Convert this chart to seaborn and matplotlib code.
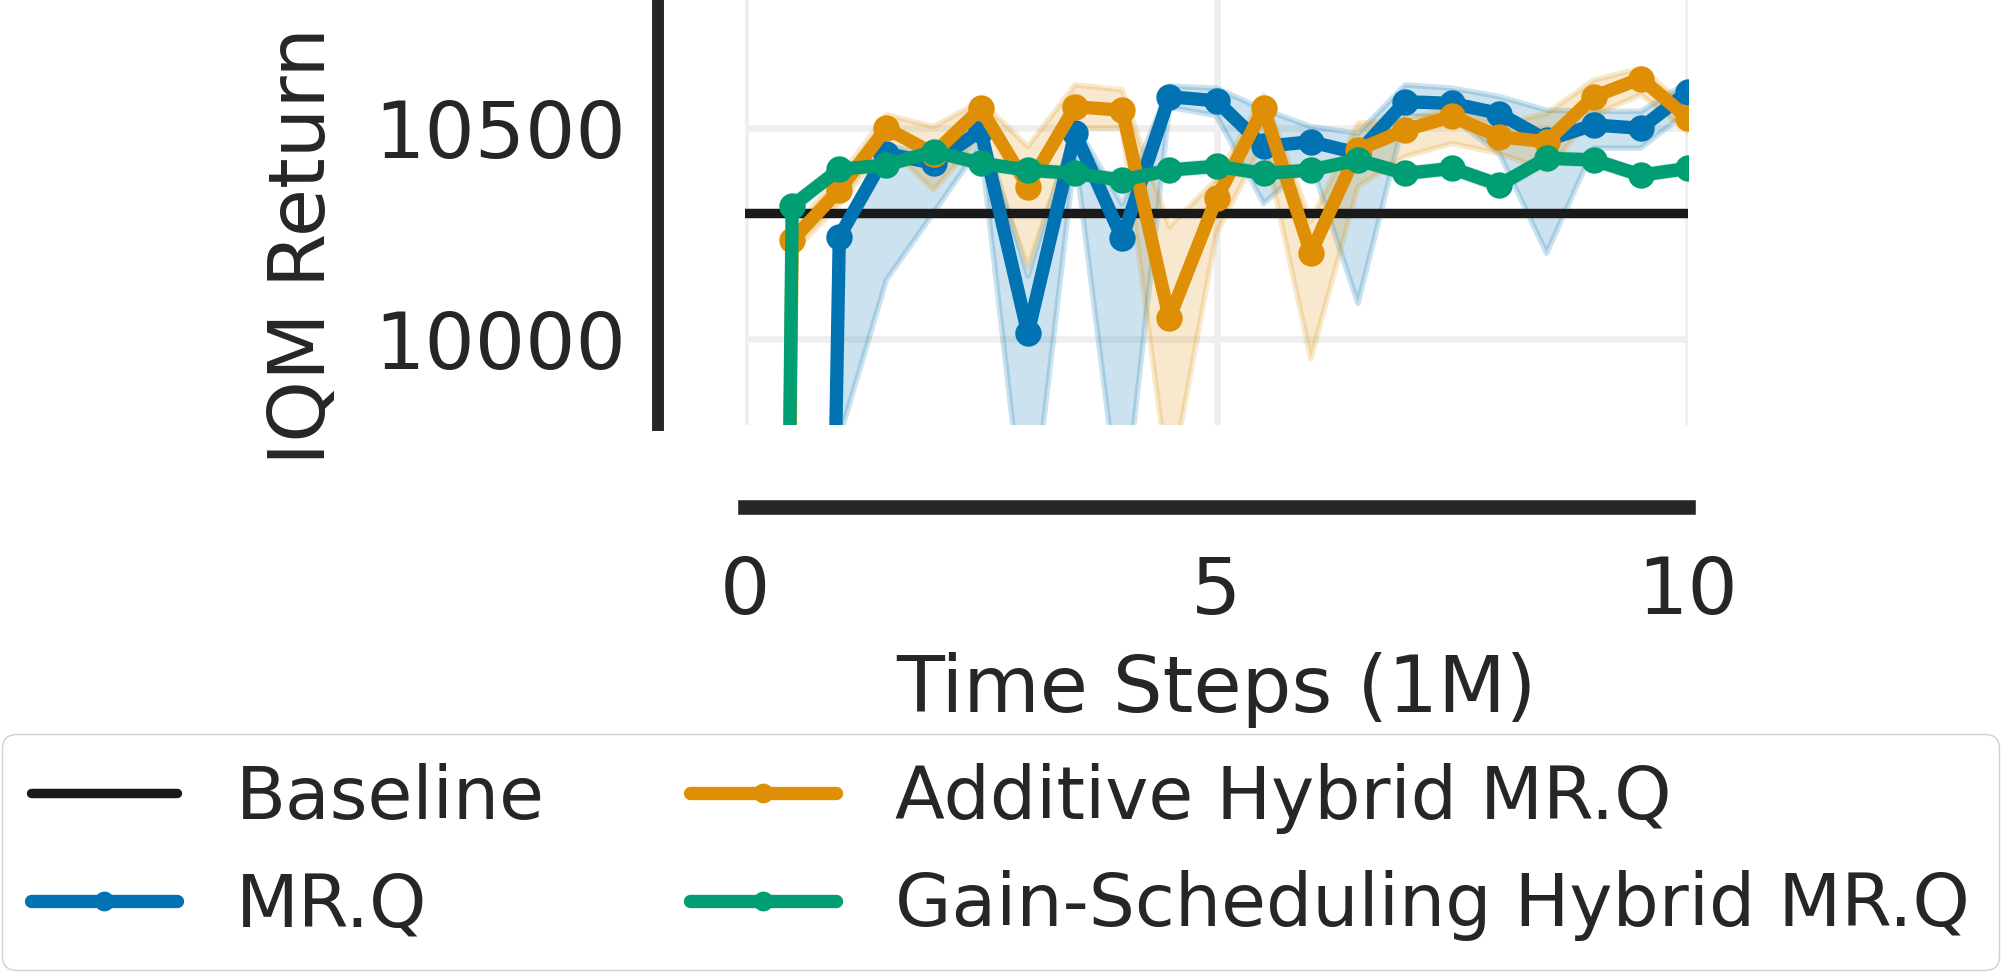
import numpy as np
import pandas as pd
import matplotlib
matplotlib.use("Agg")
import matplotlib.pyplot as plt
import seaborn as sns

# time steps (1M)
steps = [0.0, 0.5, 1.0, 1.5, 2.0, 2.5, 3.0, 3.5, 4.0, 4.5, 5.0,
         5.5, 6.0, 6.5, 7.0, 7.5, 8.0, 8.5, 9.0, 9.5, 10.0]

baseline = 10300

mrq_mean = [-300, 4000, 10243, 10440, 10417, 10495, 10014, 10488, 10239, 10575, 10565,
            10457, 10468, 10441, 10563, 10559, 10535, 10472, 10508, 10500, 10587]
mrq_low = [-400, 2000, 9767, 10141, 10300, 10460, 9485, 10440, 9550, 10550, 10530,
           10322, 10420, 10085, 10530, 10525, 10440, 10204, 10453, 10453, 10540]
mrq_high = [-200, 6000, 10260, 10460, 10435, 10515, 10150, 10510, 10320, 10600, 10595,
            10545, 10504, 10488, 10603, 10595, 10575, 10543, 10540, 10540, 10610]

add_mean = [-300, 10235, 10354, 10500, 10440, 10547, 10362, 10551, 10543, 10050, 10334,
            10547, 10204, 10449, 10496, 10528, 10480, 10468, 10575, 10618, 10524]
add_low = [-400, 10204, 10320, 10460, 10354, 10480, 10172, 10500, 10500, 9650, 10251,
           10470, 9955, 10362, 10433, 10464, 10440, 10401, 10530, 10580, 10490]
add_high = [-200, 10262, 10385, 10532, 10504, 10565, 10457, 10603, 10591, 10267, 10380,
            10579, 10280, 10512, 10520, 10550, 10510, 10535, 10614, 10642, 10550]

gs_mean = [-300, 10316, 10403, 10413, 10445, 10417, 10401, 10393, 10377, 10401, 10410,
           10393, 10401, 10425, 10393, 10405, 10366, 10429, 10425, 10389, 10405]
gs_low = [-400, 10300, 10392, 10402, 10433, 10406, 10390, 10382, 10365, 10390, 10398,
          10382, 10390, 10414, 10382, 10394, 10352, 10418, 10414, 10378, 10394]
gs_high = [-200, 10330, 10414, 10424, 10457, 10428, 10412, 10404, 10389, 10412, 10422,
           10404, 10412, 10436, 10404, 10416, 10378, 10440, 10436, 10400, 10416]

labels = ["MR.Q", "Additive Hybrid MR.Q", "Gain-Scheduling Hybrid MR.Q"]
x_ticks = [0, 5, 10]
y_ticks = [10000, 10500]

sns.set_theme(style="whitegrid")
plt.rcParams.update({
    "font.family": ["DejaVu Sans"],
    "text.color": "#262626",
    "axes.labelcolor": "#262626",
    "xtick.color": "#262626",
    "ytick.color": "#262626",
    "axes.edgecolor": "#262626",
    "grid.color": "#efefef",
    "grid.linewidth": 4.8,
    "legend.edgecolor": "#d0d0d0",
})

pal = sns.color_palette("colorblind")
colors = [pal[0], pal[1], pal[2]]

fig = plt.figure(figsize=(20.03, 9.74), dpi=100)
ax = fig.add_axes([745 / 2003, 1 - 425 / 974, 943 / 2003, 425 / 974])

ax.axhline(baseline, color="#1a1a1a", lw=6.8, label="Baseline")

series = [(mrq_mean, mrq_low, mrq_high), (add_mean, add_low, add_high), (gs_mean, gs_low, gs_high)]
for (m, lo, hi), lab, c in zip(series, labels, colors):
    df = pd.DataFrame({"step": steps, "ret": m})
    # shaded interval, edge drawn too so the outline shows slightly darker
    ax.fill_between(steps, lo, hi, color=c, alpha=0.2, lw=4)
    sns.lineplot(data=df, x="step", y="ret", ax=ax, color=c, lw=9.6, marker="o",
                 markersize=19, markeredgecolor=c, markeredgewidth=0, label=lab)

ax.set_xlim(0, 10)
ax.set_ylim(9797, 10804)
ax.set_xticks(x_ticks)
ax.set_yticks(y_ticks)
ax.tick_params(axis="x", labelsize=57, pad=28)
ax.tick_params(axis="y", labelsize=57, pad=17)
ax.set_xlabel("Time Steps (1M)", fontsize=56.5)
ax.set_ylabel("IQM Return", fontsize=56.5)
ax.xaxis.set_label_coords(0.5, -0.534)
ax.yaxis.set_label_coords(-0.428, 0.421)

sns.despine(ax=ax, offset={"left": 62.6, "bottom": 59})
ax.spines["left"].set_linewidth(8.6)
ax.spines["bottom"].set_linewidth(10.5)

handles, labs = ax.get_legend_handles_labels()
if ax.get_legend():
    ax.get_legend().remove()
fig.legend(handles, labs, ncol=2, loc="center", bbox_to_anchor=(0.4995, 1 - 852 / 974),
           fontsize=52.5, markerscale=0.75, frameon=True, framealpha=1.0)

fig.savefig("out.png", dpi=100)
